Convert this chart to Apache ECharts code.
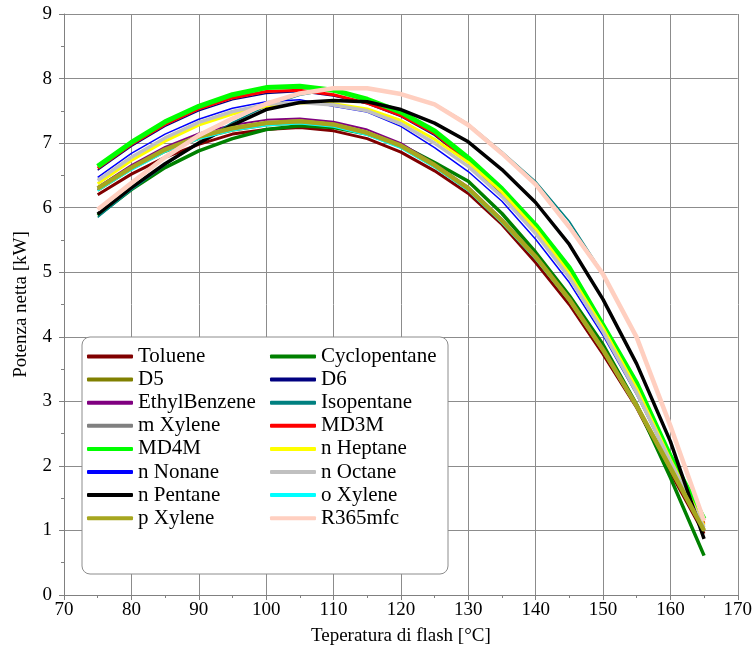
<!DOCTYPE html>
<html>
<head>
<meta charset="utf-8">
<script src="https://cdn.jsdelivr.net/npm/echarts@6/dist/echarts.min.js"></script>
<style>html,body{margin:0;padding:0;background:#fff;}#c{width:755px;height:655px;}</style>
</head>
<body>
<div id="c"></div>
<script>
const temps = [75,80,85,90,95,100,105,110,115,120,125,130,135,140,145,150,155,160,165];
const xTicks = [70,80,90,100,110,120,130,140,150,160,170];
const yTicks = [0,1,2,3,4,5,6,7,8,9];

const toluene      = [6.20,6.52,6.78,6.98,7.14,7.21,7.24,7.19,7.07,6.86,6.57,6.22,5.74,5.15,4.50,3.73,2.90,1.90,0.95];
const cyclopentane = [5.88,6.28,6.62,6.88,7.07,7.21,7.27,7.24,7.14,6.97,6.70,6.41,5.91,5.31,4.64,3.88,2.95,1.82,0.61];
const d5           = [6.27,6.60,6.87,7.07,7.20,7.28,7.31,7.27,7.14,6.94,6.64,6.28,5.78,5.22,4.56,3.78,2.92,1.95,0.98];
const d6           = [6.58,6.95,7.26,7.50,7.67,7.77,7.80,7.73,7.61,7.41,7.12,6.70,6.21,5.63,4.95,4.10,3.18,2.10,1.08];
const ethylbenzene = [6.32,6.66,6.94,7.15,7.28,7.36,7.38,7.33,7.21,7.00,6.68,6.32,5.82,5.26,4.60,3.82,2.95,1.99,1.02];
const isopentane   = [5.85,6.27,6.66,7.00,7.32,7.57,7.74,7.83,7.84,7.77,7.61,7.30,6.87,6.41,5.79,4.98,4.00,2.60,1.12];
const mXylene      = [6.29,6.61,6.89,7.09,7.22,7.30,7.33,7.28,7.15,6.95,6.65,6.29,5.79,5.23,4.57,3.79,2.92,1.96,0.99];
const md3m         = [6.61,6.98,7.29,7.53,7.70,7.80,7.82,7.75,7.62,7.43,7.15,6.72,6.24,5.66,4.98,4.12,3.20,2.10,1.10];
const md4m         = [6.64,7.01,7.33,7.57,7.75,7.86,7.88,7.82,7.68,7.48,7.19,6.77,6.29,5.73,5.07,4.18,3.28,2.15,1.18];
const nHeptane     = [6.37,6.73,7.03,7.28,7.45,7.57,7.62,7.61,7.53,7.35,7.06,6.70,6.24,5.67,4.98,4.14,3.20,2.10,1.08];
const nNonane      = [6.47,6.84,7.14,7.37,7.54,7.64,7.67,7.57,7.48,7.26,6.93,6.56,6.10,5.51,4.84,4.02,3.10,2.05,1.02];
const nOctane      = [6.42,6.78,7.08,7.32,7.49,7.60,7.63,7.59,7.50,7.30,7.00,6.64,6.17,5.60,4.92,4.08,3.13,2.07,1.05];
const nPentane     = [5.90,6.31,6.68,7.00,7.28,7.52,7.63,7.66,7.64,7.52,7.31,7.02,6.59,6.08,5.43,4.58,3.58,2.38,0.87];
const oXylene      = [6.26,6.58,6.86,7.06,7.19,7.27,7.30,7.25,7.12,6.92,6.62,6.26,5.76,5.20,4.55,3.77,2.90,1.95,1.02];
const pXylene      = [6.30,6.62,6.90,7.10,7.23,7.31,7.34,7.29,7.16,6.96,6.66,6.30,5.80,5.24,4.58,3.80,2.93,1.97,1.00];
const r365mfc      = [5.97,6.38,6.78,7.12,7.38,7.61,7.77,7.85,7.85,7.76,7.60,7.28,6.84,6.36,5.70,4.97,3.99,2.62,1.15];

const seriesNames = ['Toluene','Cyclopentane','D5','D6','EthylBenzene','Isopentane','m Xylene','MD3M','MD4M','n Heptane','n Nonane','n Octane','n Pentane','o Xylene','p Xylene','R365mfc'];
const seriesData = [toluene,cyclopentane,d5,d6,ethylbenzene,isopentane,mXylene,md3m,md4m,nHeptane,nNonane,nOctane,nPentane,oXylene,pXylene,r365mfc];
const colors = ['#800000','#008000','#808000','#000080','#800080','#008080','#808080','#ff0000','#00ff00','#ffff00','#0000ff','#c0c0c0','#000000','#00ffff','#a6a61f','#ffcfc0'];
const widths = [3,3.5,3,1.5,2,1.5,3,3,5,3,1.5,3.5,3.5,1.5,4.5,4.5];

const FONT = 'Liberation Serif';
const chart = echarts.init(document.getElementById('c'), null, {renderer:'canvas'});

const series = seriesNames.map((n,i)=>({
  name:n, type:'line', showSymbol:false, symbol:'none', smooth:false,
  data: temps.map((t,j)=>[t, seriesData[i][j]]),
  lineStyle:{color:colors[i], width:widths[i]},
  itemStyle:{color:colors[i]},
  emphasis:{disabled:true}, animation:false
}));

const leftCol = seriesNames.filter((_,i)=>i%2===0);
const rightCol = seriesNames.filter((_,i)=>i%2===1);
const legendCommon = {
  orient:'vertical', top:346, itemGap:2.1, itemWidth:46, itemHeight:4, icon:'roundRect',
  textStyle:{fontFamily:FONT, fontSize:21, color:'#000', lineHeight:20}, padding:0, z:20, selectedMode:false
};

chart.setOption({
  animation:false,
  backgroundColor:'#fff',
  grid:{left:64, right:16, top:14, bottom:60, containLabel:false},
  xAxis:{
    type:'value', min:70, max:170, interval:10,
    name:'Teperatura di flash [°C]', nameLocation:'middle', nameGap:32,
    nameTextStyle:{fontFamily:FONT, fontSize:19, color:'#000'},
    axisLine:{lineStyle:{color:'#808080', width:1}},
    axisTick:{show:true, length:5, lineStyle:{color:'#808080'}},
    minorTick:{show:true, splitNumber:2, length:3, lineStyle:{color:'#808080'}},
    axisLabel:{fontFamily:FONT, fontSize:19, color:'#000', margin:6,
      formatter:v=>xTicks.includes(v)?String(v):''},
    splitLine:{show:true, lineStyle:{color:'#8c8c8c', width:1}}
  },
  yAxis:{
    type:'value', min:0, max:9, interval:1,
    name:'Potenza netta [kW]', nameLocation:'middle', nameGap:33,
    nameTextStyle:{fontFamily:FONT, fontSize:19, color:'#000'},
    axisLine:{show:true, lineStyle:{color:'#808080', width:1}},
    axisTick:{show:true, length:5, lineStyle:{color:'#808080'}},
    minorTick:{show:true, splitNumber:2, length:3, lineStyle:{color:'#808080'}},
    axisLabel:{fontFamily:FONT, fontSize:19, color:'#000', margin:12,
      formatter:v=>yTicks.includes(v)?String(v):''},
    splitLine:{show:true, lineStyle:{color:'#8c8c8c', width:1}}
  },
  graphic:[{type:'rect', z:15, shape:{x:82, y:337, width:366, height:237, r:8},
    style:{fill:'#fff', stroke:'#8c8c8c', lineWidth:1}}],
  legend:[
    Object.assign({}, legendCommon, {left:87, data:leftCol}),
    Object.assign({}, legendCommon, {left:270, data:rightCol})
  ],
  series: series
});
</script>
</body>
</html>
